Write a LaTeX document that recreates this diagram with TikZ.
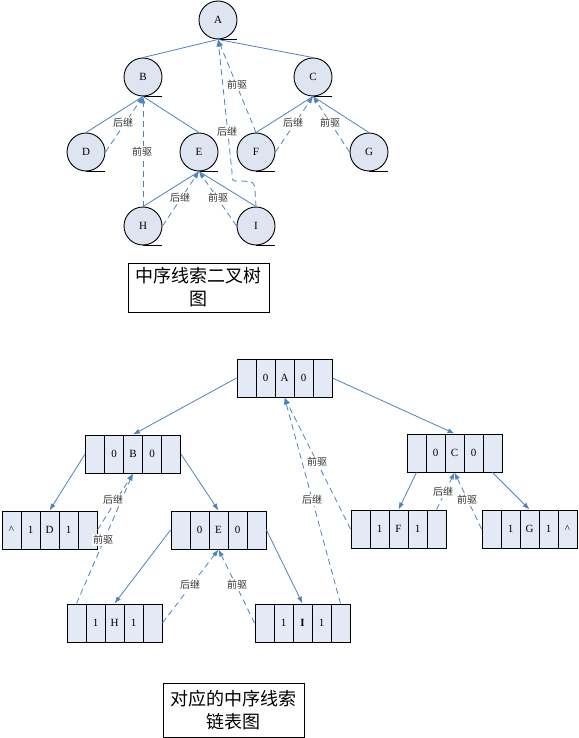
\documentclass[tikz,border=0pt]{standalone}
\usepackage{fontspec}
\setmainfont{Liberation Serif}
\newfontfamily\cjk{Noto Sans CJK SC}
\usetikzlibrary{arrows.meta}
\definecolor{lnblue}{RGB}{79,129,189}
\definecolor{cfill}{RGB}{222,229,241}
\definecolor{cellfill}{RGB}{228,234,245}
\tikzset{
 tnode/.style={circle, draw=black, line width=0.9pt, fill=cfill, minimum size=38pt, inner sep=0pt, font=\fontsize{11}{12}\selectfont},
 cell/.style={rectangle, draw=black, line width=0.9pt, fill=cellfill, minimum width=19pt, minimum height=38pt, inner sep=0pt, font=\fontsize{11}{12}\selectfont},
 edge/.style={draw=lnblue, line width=0.8pt},
 aedge/.style={edge, -{Latex[length=7pt,width=5pt]}},
 thread/.style={draw=lnblue, line width=0.8pt, dash pattern=on 6pt off 4pt, -{Latex[length=7pt,width=5pt]}},
 lbl/.style={fill=white, inner sep=1pt, font=\cjk\fontsize{10}{10}\selectfont, text=black!80},
 caption/.style={draw=black, line width=0.8pt, fill=white, minimum width=141pt, align=center, inner sep=0pt, font=\cjk\fontsize{18}{23}\selectfont}
}
\newcommand\listrec[8]{%
 \node[cell] (#1-1) at ({#2-38},#3) {#4};
 \node[cell] (#1-2) at ({#2-19},#3) {#5};
 \node[cell] (#1-3) at (#2,#3) {#6};
 \node[cell] (#1-4) at ({#2+19},#3) {#7};
 \node[cell] (#1-5) at ({#2+38},#3) {#8};
}
\begin{document}
\begin{tikzpicture}[x=1pt,y=-1pt]
\useasboundingbox (0,0) rectangle (578,738);
% ---------- threaded binary tree ----------
\foreach \n/\x/\y in {A/218/20, B/143/77, C/313/77, D/86/152, E/199/152, F/256/152, G/369/152, H/143/226, I/256/226}{
  \node[tnode] (\n) at (\x,\y) {\n};
  \draw[line width=0.9pt] (\n.south) -- ++(19,0);
}
\draw[edge] (A.south) -- (B.north);
\draw[edge] (A.south) -- (C.north);
\draw[edge] (B.south) -- (D.north);
\draw[edge] (B.south) -- (E.north);
\draw[edge] (C.south) -- (F.north);
\draw[edge] (C.south) -- (G.north);
\draw[edge] (E.south) -- (H.north);
\draw[edge] (E.south) -- (I.north);
\draw[thread] (D.east) -- (B.south);
\draw[thread] (H.north) -- (B.south);
\draw[thread] (H.east) -- (E.south);
\draw[thread] (I.west) -- (E.south);
\draw[thread] (I.north) -- (255,190) .. controls (254,182) .. (242,181) -- (238,181) .. controls (232,181) .. (232,172) -- (A.south);
\draw[thread] (F.north) -- (A.south);
\draw[thread] (F.east) -- (C.south);
\draw[thread] (G.west) -- (C.south);
\node[lbl] (t1) at (123,123) {后继};
\node[lbl] (t2) at (142,152) {前驱};
\node[lbl] (t3) at (180,198) {后继};
\node[lbl] (t4) at (218,198) {前驱};
\node[lbl] (t5) at (227,132) {后继};
\node[lbl] (t6) at (237,85) {前驱};
\node[lbl] (t7) at (293,123) {后继};
\node[lbl] (t8) at (330,123) {前驱};
\node[caption, minimum height=49pt] (cap1) at (198.5,287.5) {中序线索二叉树\\图};
% ---------- threaded linked list ----------
\listrec{LA}{284.5}{378}{}{0}{A}{0}{}
\listrec{LB}{133}{454}{}{0}{B}{0}{}
\listrec{LC}{454.5}{453}{}{0}{C}{0}{}
\listrec{LD}{49.5}{530}{\textasciicircum}{1}{D}{1}{}
\listrec{LE}{218.5}{530}{}{0}{E}{0}{}
\listrec{LF}{398.5}{529}{}{1}{F}{1}{}
\listrec{LG}{529.5}{529}{}{1}{G}{1}{\textasciicircum}
\listrec{LH}{114.5}{623}{}{1}{H}{1}{}
\listrec{LI}{302.5}{623}{}{1}{\textbf{I}}{1}{}
\draw[aedge] (LA-1.west) -- (LB-3.north);
\draw[aedge] (LA-5.east) -- (LC-3.north);
\draw[aedge] (LB-1.west) -- (LD-3.north);
\draw[aedge] (LB-5.east) -- (LE-3.north);
\draw[aedge] (LC-1.south) -- (LF-3.north);
\draw[aedge] (LC-5.south) -- (LG-3.north);
\draw[aedge] (LE-1.west) -- (LH-3.north);
\draw[aedge] (LE-5.east) -- (LI-3.north);
\draw[thread] (LD-5.east) -- (LB-3.south);
\draw[thread] (LH-1.north) -- (LB-3.south);
\draw[thread] (LH-5.east) -- (LE-3.south);
\draw[thread] (LI-1.west) -- (LE-3.south);
\draw[thread] (LI-5.north) -- (LA-3.south);
\draw[thread] (LF-1.west) -- (LA-3.south);
\draw[thread] (LF-5.north) -- (LC-3.south);
\draw[thread] (LG-1.west) -- (LC-3.south);
\node[lbl] (b1) at (113,500) {后继};
\node[lbl] (b2) at (103,540) {前驱};
\node[lbl] (b3) at (190,585) {后继};
\node[lbl] (b4) at (237,585) {前驱};
\node[lbl] (b5) at (317,462) {前驱};
\node[lbl] (b6) at (312,500) {后继};
\node[lbl] (b7) at (443,492) {后继};
\node[lbl] (b8) at (467,500) {前驱};
\node[caption, minimum height=54pt] (cap2) at (233.5,710) {对应的中序线索\\链表图};
\end{tikzpicture}
\end{document}
